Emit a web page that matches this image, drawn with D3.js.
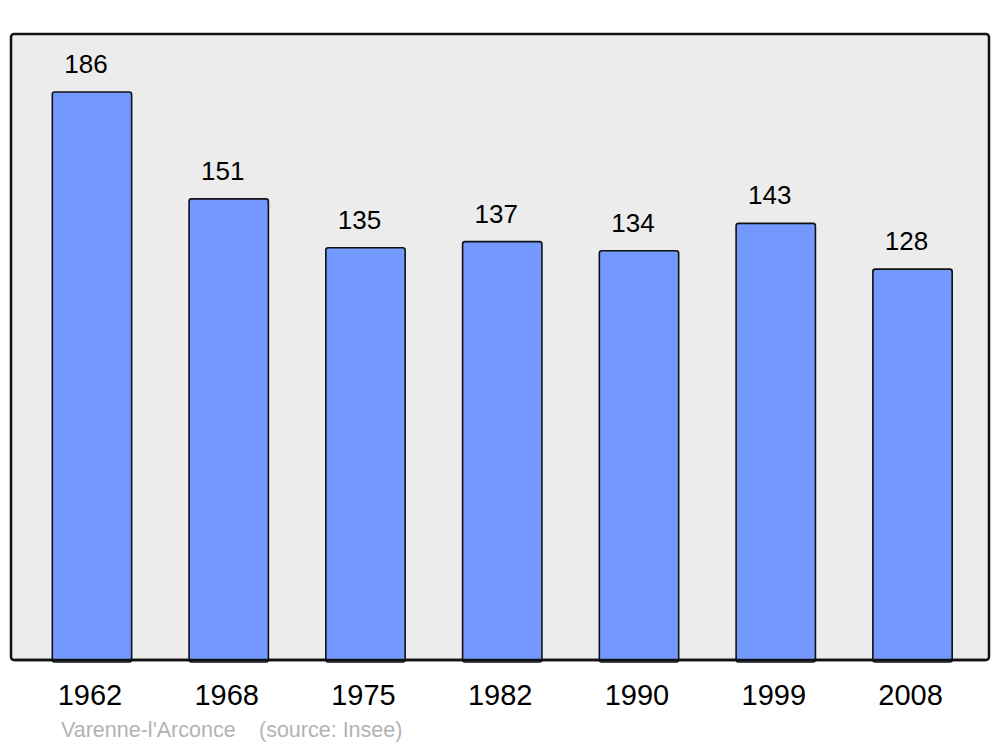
<!DOCTYPE html>
<html>
<head>
<meta charset="utf-8">
<script src="https://cdn.jsdelivr.net/npm/d3@7"></script>
<style>
  body { margin: 0; background: #fff; }
  text { font-family: "Liberation Sans", Arial, sans-serif; }
</style>
</head>
<body>
<svg id="chart" width="1000" height="747"></svg>
<script>
const years = ['1962', '1968', '1975', '1982', '1990', '1999', '2008'];
const population = [186, 151, 135, 137, 134, 143, 128];
const commune = "Varenne-l'Arconce";
const source = '(source: Insee)';

const svg = d3.select('#chart');

const frame = {left: 11, right: 989, top: 34, bottom: 660};

const x_scale = d3.scaleBand()
    .domain(years)
    .range([23.6, 980.9])
    .paddingInner(0.42)
    .paddingOuter(0.21);

const y_scale = d3.scaleLinear()
    .domain([0, 205])
    .range([frame.bottom, frame.top]);

// plot background
svg.append('rect')
    .attr('x', frame.left)
    .attr('y', frame.top)
    .attr('width', frame.right - frame.left)
    .attr('height', frame.bottom - frame.top)
    .attr('rx', 3)
    .attr('fill', '#ececec')
    .attr('stroke', '#111')
    .attr('stroke-width', 2.5);

// bars
svg.selectAll('rect.bar')
    .data(population)
    .enter()
  .append('rect')
    .attr('class', 'bar')
    .attr('x', (d, i) => x_scale(years[i]))
    .attr('y', d => y_scale(d))
    .attr('width', x_scale.bandwidth())
    .attr('height', d => frame.bottom - y_scale(d) + 2)
    .attr('rx', 2.5)
    .attr('fill', '#7399ff')
    .attr('stroke', '#111')
    .attr('stroke-width', 1.6);

// redraw bottom edge of frame over the bars
svg.append('path')
    .attr('d', `M${frame.left + 4},${frame.bottom}H${frame.right - 4}`)
    .attr('stroke', '#111')
    .attr('stroke-width', 2.5);

// value labels
svg.selectAll('text.value')
    .data(population)
    .enter()
  .append('text')
    .attr('class', 'value')
    .attr('text-anchor', 'middle')
    .attr('x', (d, i) => x_scale(years[i]) + x_scale.bandwidth() / 2 - 6)
    .attr('y', d => y_scale(d) - 19)
    .style('font-size', '26px')
    .attr('fill', '#000')
    .text(d => d);

// year labels
svg.selectAll('text.year')
    .data(years)
    .enter()
  .append('text')
    .attr('class', 'year')
    .attr('text-anchor', 'middle')
    .attr('x', d => x_scale(d) + x_scale.bandwidth() / 2 - 2)
    .attr('y', 705)
    .style('font-size', '29px')
    .attr('fill', '#000')
    .text(d => d);

// footer
svg.append('text')
    .attr('x', 61)
    .attr('y', 737)
    .style('font-size', '21.5px')
    .attr('fill', '#b3b3b3')
    .text(commune);
svg.append('text')
    .attr('x', 259)
    .attr('y', 737)
    .style('font-size', '21.5px')
    .attr('fill', '#b3b3b3')
    .text(source);
</script>
</body>
</html>
